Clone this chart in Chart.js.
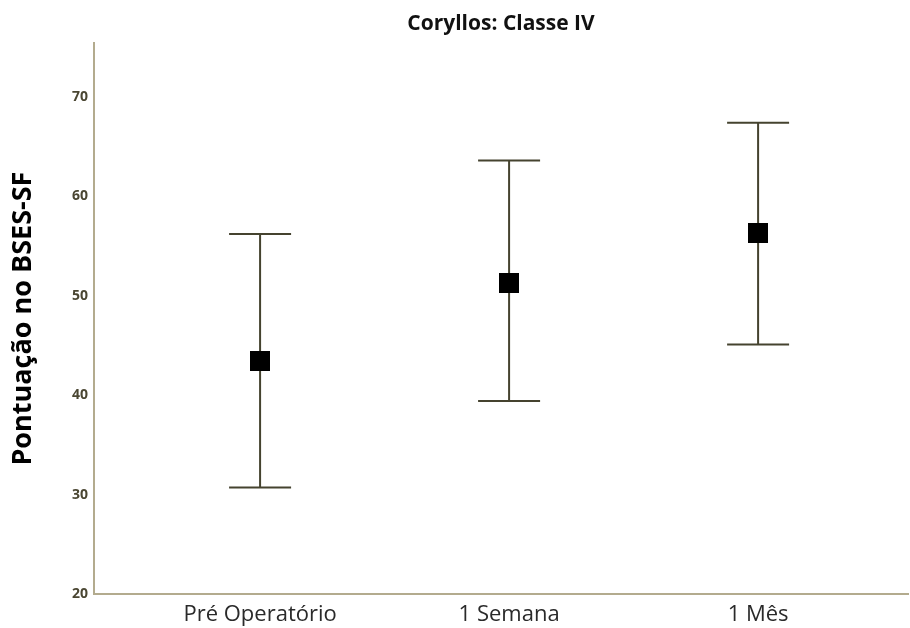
<!DOCTYPE html>
<html>
<head>
<meta charset="utf-8">
<title>Coryllos: Classe IV</title>
<script src="https://cdn.jsdelivr.net/npm/chart.js@4"></script>
<style>
  html, body { margin: 0; padding: 0; background: #fff; }
  canvas { display: block; }
</style>
</head>
<body>
<canvas id="myChart" width="910" height="628"></canvas>
<script>
'use strict';
// Data
const categories = ['Pré Operatório', '1 Semana', '1 Mês'];
const means = [43.4, 51.3, 56.3];
const upper = [56.2, 63.6, 67.4];
const lower = [30.7, 39.4, 45.1];
const yTicks = [20, 30, 40, 50, 60, 70];

const axisColor = '#b3ab8e';
const barColor = '#45432f';

// square marker as an image so the layout doesn't add padding for it
const marker = document.createElement('canvas');
marker.width = 20;
marker.height = 20;
const mctx = marker.getContext('2d');
mctx.fillStyle = '#000';
mctx.fillRect(0, 0, 20, 20);

// error bars drawn through the scales
const errorBars = {
  id: 'errorBars',
  beforeDatasetsDraw(chart) {
    const ctx = chart.ctx;
    const x = chart.scales.x;
    const y = chart.scales.y;
    ctx.save();
    ctx.strokeStyle = barColor;
    ctx.lineWidth = 2;
    for (let i = 0; i < categories.length; i++) {
      const px = x.getPixelForValue(i);
      const top = y.getPixelForValue(upper[i]);
      const bot = y.getPixelForValue(lower[i]);
      ctx.beginPath();
      ctx.moveTo(px, top);
      ctx.lineTo(px, bot);
      ctx.moveTo(px - 31, top);
      ctx.lineTo(px + 31, top);
      ctx.moveTo(px - 31, bot);
      ctx.lineTo(px + 31, bot);
      ctx.stroke();
    }
    ctx.restore();
  }
};

const points = means.map((m, i) => ({ x: i, y: m }));

new Chart(document.getElementById('myChart').getContext('2d'), {
  type: 'scatter',
  data: {
    datasets: [{
      data: points,
      pointStyle: marker,
      radius: 1,
      hoverRadius: 1,
      borderWidth: 0
    }]
  },
  plugins: [errorBars],
  options: {
    responsive: false,
    animation: false,
    layout: { padding: { left: 0, right: 2, top: 0, bottom: 0 } },
    plugins: {
      legend: { display: false },
      tooltip: { enabled: false },
      title: {
        display: true,
        fullSize: false,
        text: 'Coryllos: Classe IV',
        color: '#111',
        font: { family: 'Open Sans', size: 21, weight: 'bold' },
        padding: { top: 11, bottom: 7 }
      }
    },
    scales: {
      x: {
        type: 'linear',
        min: -0.667,
        max: 2.602,
        grid: { display: false, drawTicks: false },
        border: { color: axisColor, width: 2 },
        afterBuildTicks(scale) {
          scale.ticks = categories.map((c, i) => ({ value: i }));
        },
        afterFit(scale) { scale.height = 34; },
        ticks: {
          padding: 8,
          maxRotation: 0,
          color: '#2a2a2a',
          font: { family: 'Open Sans', size: 22 },
          callback: (v) => categories[v]
        }
      },
      y: {
        min: 20,
        max: 75.4,
        grid: { display: false, drawTicks: false },
        border: { color: axisColor, width: 2 },
        afterBuildTicks(scale) {
          scale.ticks = yTicks.map(v => ({ value: v }));
        },
        afterFit(scale) { scale.width = 94; },
        ticks: {
          padding: 6,
          color: '#4a4632',
          font: { family: 'Open Sans', size: 14, weight: 'bold' }
        },
        title: {
          display: true,
          text: 'Pontuação no BSES-SF',
          color: '#000',
          font: { family: 'Open Sans', size: 27, weight: 'bold' },
          padding: { top: 7, bottom: 0 }
        }
      }
    }
  }
});
</script>
</body>
</html>
